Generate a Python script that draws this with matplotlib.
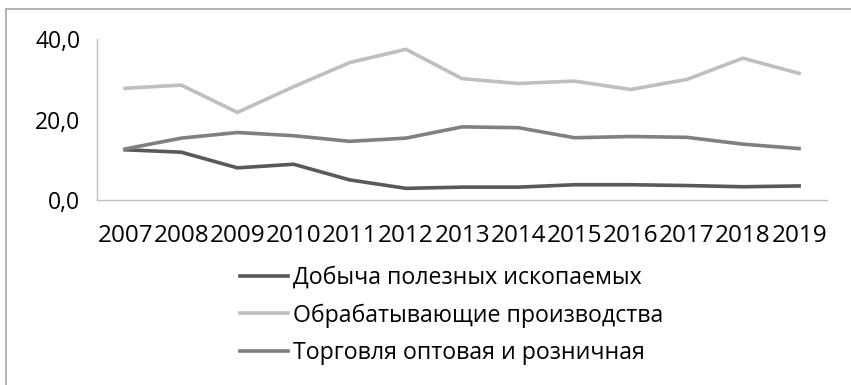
import matplotlib.pyplot as plt
from matplotlib.patches import Rectangle
from matplotlib.ticker import FuncFormatter

plt.rcParams['font.family'] = ['Open Sans', 'DejaVu Sans']

# Данные
years = ['2007', '2008', '2009', '2010', '2011', '2012', '2013',
         '2014', '2015', '2016', '2017', '2018', '2019']
mining = [12.5, 11.9, 8.0, 8.9, 5.0, 2.9, 3.2, 3.2, 3.8, 3.8, 3.6, 3.3, 3.5]
manufacturing = [27.8, 28.6, 21.8, 28.2, 34.2, 37.5, 30.2, 29.0, 29.6, 27.5, 30.0, 35.3, 31.5]
trade = [12.7, 15.4, 16.8, 16.0, 14.6, 15.4, 18.2, 18.0, 15.5, 15.8, 15.6, 13.9, 12.8]
labels = ['Добыча полезных ископаемых', 'Обрабатывающие производства',
          'Торговля оптовая и розничная']

fig = plt.figure(figsize=(8.51, 3.85), dpi=100)
ax = fig.add_axes([0.114, 0.4805, 0.858, 0.4175])

x = range(len(years))
ax.plot(x, mining, color='#595959', lw=2.6, label=labels[0])
ax.plot(x, manufacturing, color='#bfbfbf', lw=2.6, label=labels[1])
ax.plot(x, trade, color='#808080', lw=2.6, label=labels[2])

ax.set_xlim(-0.5, len(years) - 0.5)
ax.set_ylim(0, 40)
ax.set_yticks([0, 20, 40])
ax.yaxis.set_major_formatter(FuncFormatter(lambda v, p: f'{v:.1f}'.replace('.', ',')))
ax.set_xticks(list(x))
ax.set_xticklabels(years)
ax.tick_params(axis='both', length=0)
ax.tick_params(axis='x', pad=17, labelsize=17.5)
ax.tick_params(axis='y', pad=12, labelsize=16.5)

for s in ['top', 'right']:
    ax.spines[s].set_visible(False)
for s in ['left', 'bottom']:
    ax.spines[s].set_color('#bfbfbf')
    ax.spines[s].set_linewidth(1)

fig.legend(loc='upper left', bbox_to_anchor=(0.268, 0.34), frameon=False,
           fontsize=16.7, handlelength=2.1, handletextpad=0.2, labelspacing=0.58,
           borderpad=0)

# рамка области диаграммы (видны только верх и левый край)
fig.add_artist(Rectangle((0.0075, -0.1), 1.1, 1.077, transform=fig.transFigure,
                         fill=False, edgecolor='#a6a6a6', lw=1.2))

fig.savefig('out.png', dpi=100)
